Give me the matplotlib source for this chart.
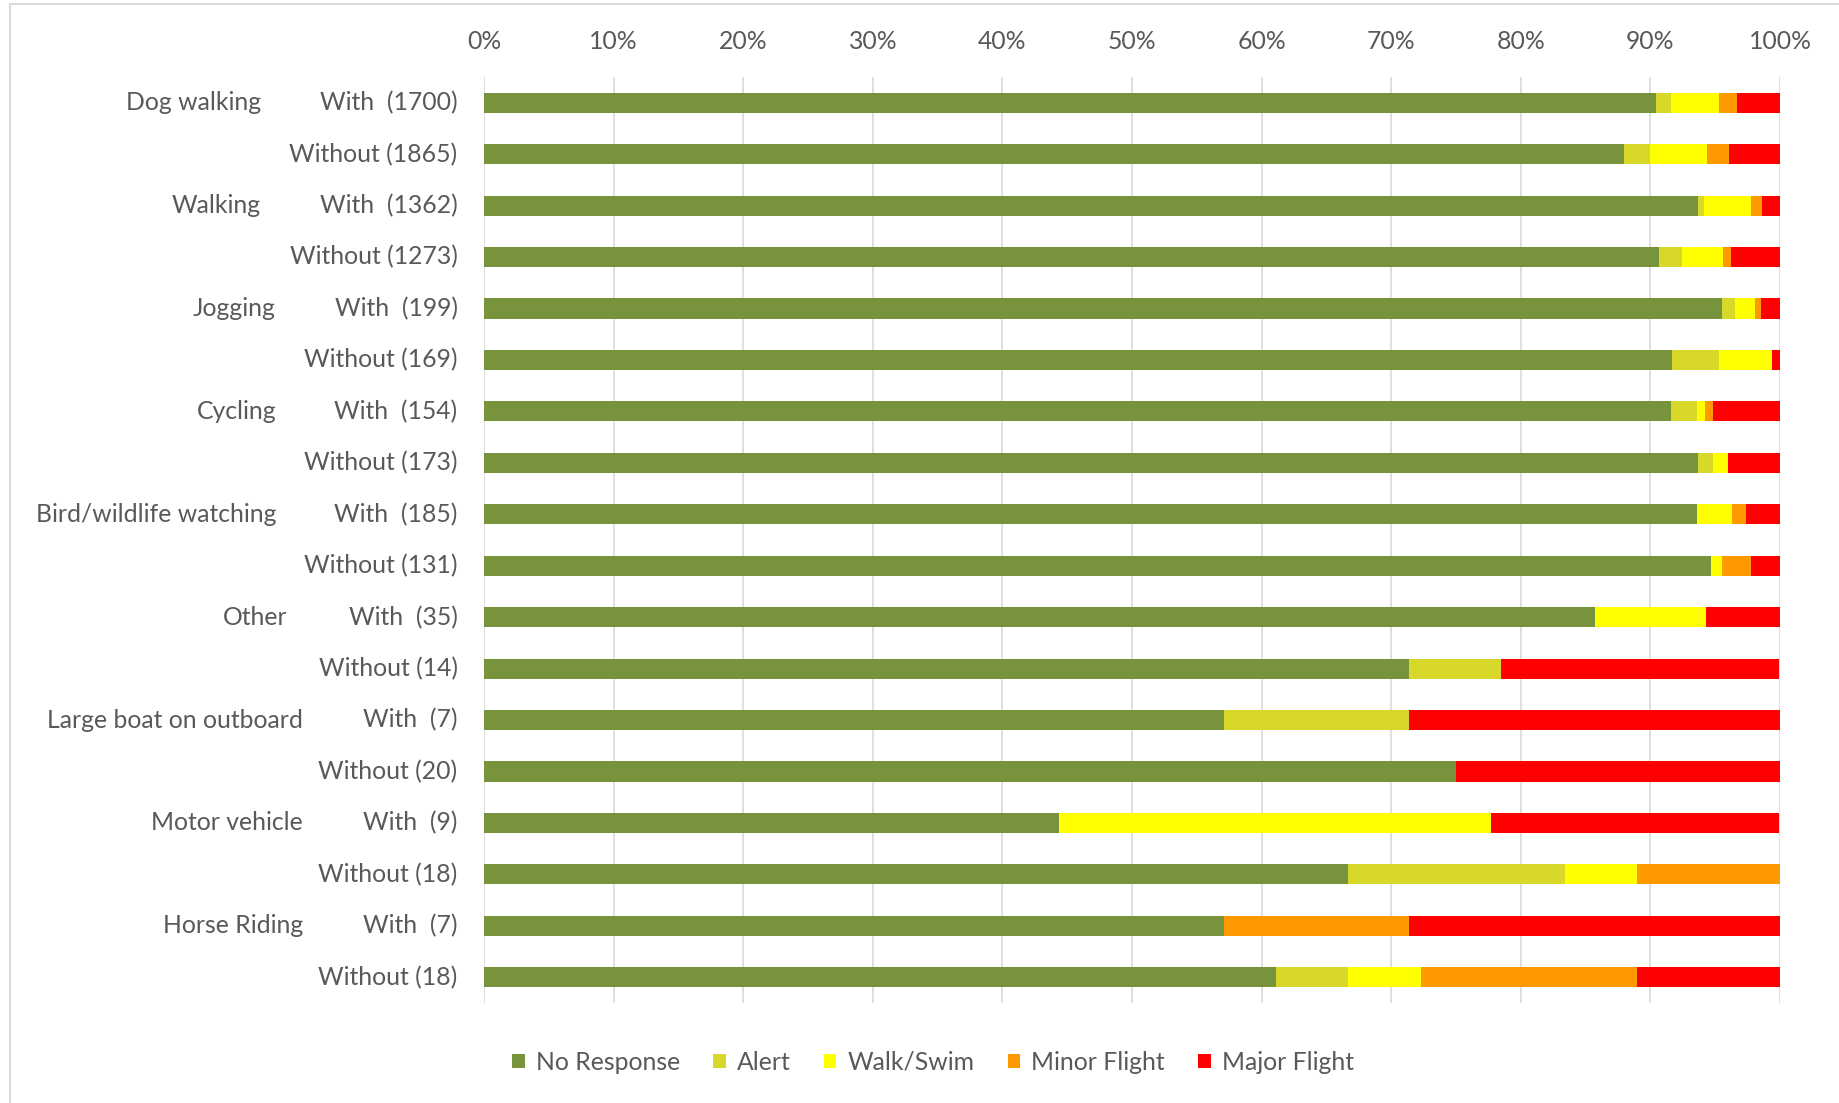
import matplotlib
matplotlib.use("Agg")
import matplotlib.pyplot as plt
from matplotlib.patches import Rectangle, Patch
from matplotlib.transforms import blended_transform_factory
import numpy as np

# ---------------- data ----------------
activities = ["Dog walking", "Walking", "Jogging", "Cycling", "Bird/wildlife watching",
              "Other", "Large boat on outboard", "Motor vehicle", "Horse Riding"]
conditions = ["With", "Without"]
sample_sizes = [1700, 1865, 1362, 1273, 199, 169, 154, 173, 185, 131,
                35, 14, 7, 20, 9, 18, 7, 18]

no_response = [90.4, 88.0, 93.7, 90.7, 95.5, 91.7, 91.6, 93.7, 93.6, 94.7,
               85.7, 71.4, 57.1, 75.0, 44.4, 66.7, 57.1, 61.1]
alert = [1.2, 2.0, 0.4, 1.7, 1.0, 3.6, 2.0, 1.1, 0.0, 0.0,
         0.0, 7.1, 14.3, 0.0, 0.0, 16.7, 0.0, 5.6]
walk_swim = [3.7, 4.4, 3.7, 3.2, 1.6, 4.1, 0.6, 1.2, 2.7, 0.8,
             8.6, 0.0, 0.0, 0.0, 33.3, 5.6, 0.0, 5.6]
minor_flight = [1.4, 1.7, 0.8, 0.6, 0.4, 0.0, 0.6, 0.0, 1.1, 2.3,
                0.0, 0.0, 0.0, 0.0, 0.0, 11.1, 14.3, 16.7]
major_flight = [3.3, 3.9, 1.4, 3.8, 1.5, 0.6, 5.2, 4.0, 2.6, 2.2,
                5.7, 21.4, 28.6, 25.0, 22.2, 0.0, 28.6, 11.1]

series_names = ["No Response", "Alert", "Walk/Swim", "Minor Flight", "Major Flight"]
x_ticks = [0, 10, 20, 30, 40, 50, 60, 70, 80, 90, 100]
x_tick_labels = ["0%", "10%", "20%", "30%", "40%", "50%", "60%", "70%", "80%", "90%", "100%"]

# ---------------- style ----------------
colors = ["#77933C", "#D8D82A", "#FFFF00", "#FF9900", "#FF0000"]
text_color = "#595959"
font = "Lato"
fs = 17.8
W, H = 1839, 1103
# right edge (figure px) of the activity labels
group_label_right_px = [261, 261, 276, 276, 276, 288, 303, 303, 303]

fig = plt.figure(figsize=(W / 100, H / 100), dpi=100)
ax = fig.add_axes([484 / W, 1 - 1003 / H, (1780 - 484) / W, (1003 - 77) / H])

series = [no_response, alert, walk_swim, minor_flight, major_flight]
n = len(sample_sizes)
y = np.arange(n)
left = np.zeros(n)
for vals, c, name in zip(series, colors, series_names):
    ax.barh(y, vals, left=left, height=0.39, color=c, edgecolor="none", label=name, zorder=3)
    left += np.array(vals)

ax.set_xlim(0, 100)
ax.set_ylim(n - 0.5, -0.5)
ax.set_xticks(x_ticks)
ax.set_xticklabels(x_tick_labels)
ax.xaxis.tick_top()
ax.tick_params(axis="x", length=0, pad=17, labelsize=fs, labelcolor=text_color)
for lab in ax.get_xticklabels():
    lab.set_fontfamily(font)
ax.grid(axis="x", color="#D9D9D9", linewidth=1.2, zorder=0)
for s in ax.spines.values():
    s.set_visible(False)

sub_labels = []
for i, ns in enumerate(sample_sizes):
    cond = conditions[i % 2]
    sub_labels.append(f"With  ({ns})" if cond == "With" else f"Without ({ns})")
ax.set_yticks(y)
ax.set_yticklabels(sub_labels)
ax.tick_params(axis="y", length=0, pad=19, labelsize=fs, labelcolor=text_color)
for lab in ax.get_yticklabels():
    lab.set_fontfamily(font)
    lab.set_va("center")

trans = blended_transform_factory(fig.transFigure, ax.transData)
for k, act in enumerate(activities):
    ax.text(group_label_right_px[k] / W, 2 * k, act, transform=trans, ha="right", va="center",
            fontsize=fs, color=text_color, fontfamily=font)

handles = [Patch(facecolor=c, edgecolor="none", label=nm) for c, nm in zip(colors, series_names)]
fig.legend(handles=handles, loc="center", bbox_to_anchor=(933 / W, 1 - 1062 / H), ncol=5,
           frameon=False, handlelength=0.5, handleheight=0.5, handletextpad=0.45,
           columnspacing=1.35, prop={"family": font, "size": fs}, labelcolor=text_color)

fig.patches.append(Rectangle((10 / W, -0.05), 1.1, 1 - 4 / H + 0.05, transform=fig.transFigure,
                             fill=False, edgecolor="#D9D9D9", linewidth=1.5))

fig.savefig("out.png", dpi=100, facecolor="white")
